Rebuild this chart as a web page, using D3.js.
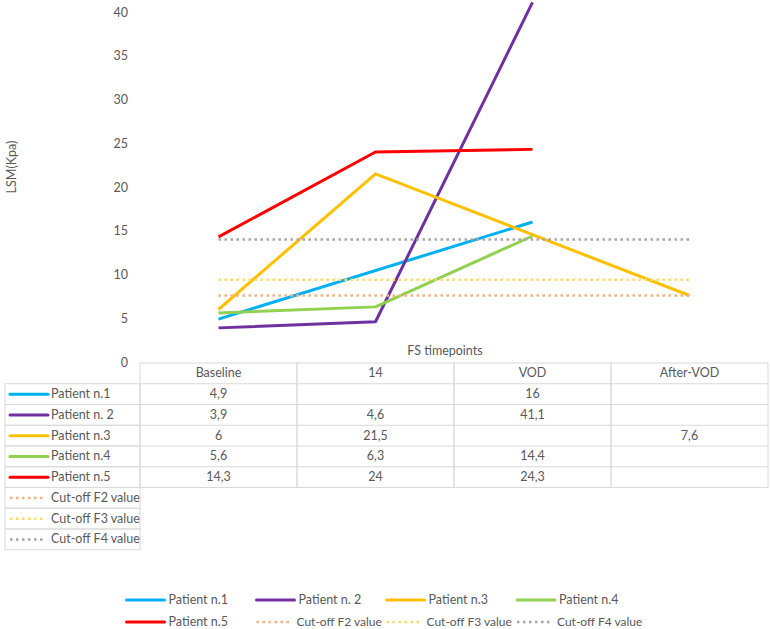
<!DOCTYPE html>
<html lang="en">
<head>
  <meta charset="UTF-8" />
  <title>LSM by FS timepoints</title>
  <script src="https://d3js.org/d3.v7.min.js"></script>
  <style>
    body {
      margin: 0;
      padding: 0;
      background: #fff;
    }
    svg text {
      font-family: Lato, "Open Sans", sans-serif;
      fill: #595959;
    }
  </style>
</head>
<body>
  <div id="chart"></div>

  <script>
    // categories on x
    const timepoints = ["Baseline", "14", "VOD", "After-VOD"];

    // patient series (null = no measurement)
    const patientNames = ["Patient n.1", "Patient n. 2", "Patient n.3", "Patient n.4", "Patient n.5"];
    const patient1 = [4.9, null, 16, null];
    const patient2 = [3.9, 4.6, 41.1, null];
    const patient3 = [6, 21.5, null, 7.6];
    const patient4 = [5.6, 6.3, 14.4, null];
    const patient5 = [14.3, 24, 24.3, null];
    const patientColors = ["#00B0F0", "#7030A0", "#FFC000", "#92D050", "#FF0000"];

    // cut-off reference lines
    const cutoffNames = ["Cut-off F2 value", "Cut-off F3 value", "Cut-off F4 value"];
    const cutoffValues = [7.6, 9.4, 14];
    const cutoffColors = ["#F4B183", "#FFD966", "#A5A5A5"];

    const yTicks = [0, 5, 10, 15, 20, 25, 30, 35, 40];

    const patients = [patient1, patient2, patient3, patient4, patient5].map((vals, i) => ({
      name: patientNames[i],
      color: patientColors[i],
      values: vals,
    }));
    const cutoffs = cutoffValues.map((v, i) => ({
      name: cutoffNames[i],
      color: cutoffColors[i],
      value: v,
    }));

    const width = 770;
    const height = 629;

    const svg = d3
      .select("#chart")
      .append("svg")
      .attr("width", width)
      .attr("height", height);

    const x = d3.scaleBand().domain(timepoints).range([140, 768]).padding(0);
    const xc = (d) => x(d) + x.bandwidth() / 2;
    const y = d3.scaleLinear().domain([0, 40]).range([362, 12]);

    // y axis, labels only
    const yAxis = svg
      .append("g")
      .attr("transform", "translate(128,0)")
      .call(d3.axisLeft(y).tickValues(yTicks).tickSize(0).tickPadding(0));
    yAxis.select(".domain").remove();
    yAxis.selectAll("text").style("font-size", "12.5px").attr("fill", "#595959");

    svg
      .append("text")
      .attr("transform", "translate(16,167) rotate(-90)")
      .attr("text-anchor", "middle")
      .style("font-size", "12.5px")
      .text("LSM(Kpa)");

    svg
      .append("text")
      .attr("x", 445)
      .attr("y", 355)
      .attr("text-anchor", "middle")
      .style("font-size", "12.5px")
      .text("FS timepoints");

    const line = d3
      .line()
      .x((d) => xc(d.t))
      .y((d) => y(d.v));

    // patient lines (gaps are bridged, as in the original)
    svg
      .selectAll(".patient")
      .data(patients)
      .enter()
      .append("path")
      .attr("class", "patient")
      .attr("fill", "none")
      .attr("stroke", (d) => d.color)
      .attr("stroke-width", 3)
      .attr("stroke-linejoin", "round")
      .attr("d", (d) =>
        line(
          d.values
            .map((v, i) => ({ t: timepoints[i], v: v }))
            .filter((p) => p.v !== null)
        )
      );

    // cut-off dotted lines
    svg
      .selectAll(".cutoff")
      .data(cutoffs)
      .enter()
      .append("line")
      .attr("class", "cutoff")
      .attr("x1", xc(timepoints[0]))
      .attr("x2", xc(timepoints[timepoints.length - 1]))
      .attr("y1", (d) => y(d.value))
      .attr("y2", (d) => y(d.value))
      .attr("stroke", (d) => d.color)
      .attr("stroke-width", 2.5)
      .attr("stroke-dasharray", "2.5 3.5");

    // data table
    const rowH = 20.75;
    const tableTop = 363;
    const borderColor = "#D9D9D9";
    const table = svg.append("g");
    const nRows = patients.length + cutoffs.length;

    // header row cells
    timepoints.forEach((t) => {
      table
        .append("rect")
        .attr("x", x(t))
        .attr("y", tableTop)
        .attr("width", x.bandwidth())
        .attr("height", rowH * (patients.length + 1))
        .attr("fill", "none")
        .attr("stroke", borderColor);
      table
        .append("text")
        .attr("x", xc(t))
        .attr("y", tableTop + rowH / 2 + 4)
        .attr("text-anchor", "middle")
        .style("font-size", "12.5px")
        .text(t);
    });

    // horizontal rules across the data columns
    for (let r = 1; r <= patients.length; r++) {
      table
        .append("line")
        .attr("x1", 140)
        .attr("x2", 768)
        .attr("y1", tableTop + rowH * r)
        .attr("y2", tableTop + rowH * r)
        .attr("stroke", borderColor);
    }

    // legend column rows
    for (let r = 0; r < nRows; r++) {
      table
        .append("rect")
        .attr("x", 5)
        .attr("y", tableTop + rowH * (r + 1))
        .attr("width", 135)
        .attr("height", rowH)
        .attr("fill", "none")
        .attr("stroke", borderColor);
    }

    const fmt = (v) => String(v).replace(".", ",");

    patients.forEach((p, r) => {
      const cy = tableTop + rowH * (r + 1) + rowH / 2;
      table
        .append("line")
        .attr("x1", 10)
        .attr("x2", 48)
        .attr("y1", cy)
        .attr("y2", cy)
        .attr("stroke", p.color)
        .attr("stroke-width", 3)
        .attr("stroke-linecap", "round");
      table
        .append("text")
        .attr("x", 51)
        .attr("y", cy + 4)
        .style("font-size", "12.5px")
        .text(p.name);
      p.values.forEach((v, i) => {
        if (v === null) return;
        table
          .append("text")
          .attr("x", xc(timepoints[i]))
          .attr("y", cy + 4)
          .attr("text-anchor", "middle")
          .style("font-size", "12.5px")
          .text(fmt(v));
      });
    });

    cutoffs.forEach((c, k) => {
      const cy = tableTop + rowH * (patients.length + k + 1) + rowH / 2;
      table
        .append("line")
        .attr("x1", 10)
        .attr("x2", 45)
        .attr("y1", cy)
        .attr("y2", cy)
        .attr("stroke", c.color)
        .attr("stroke-width", 2.5)
        .attr("stroke-dasharray", "2.5 3.5");
      table
        .append("text")
        .attr("x", 51)
        .attr("y", cy + 4)
        .style("font-size", "12.5px")
        .text(c.name);
    });

    // bottom legend
    const legendItems = patients
      .map((p) => ({ name: p.name, color: p.color, dotted: false }))
      .concat(cutoffs.map((c) => ({ name: c.name, color: c.color, dotted: true })));
    const legendX = [126.5, 256.5, 386.5, 517];
    const legendY = [600, 622];

    const legend = svg
      .append("g")
      .selectAll("g")
      .data(legendItems)
      .enter()
      .append("g")
      .attr("transform", (d, i) => `translate(${legendX[i % 4]},${legendY[Math.floor(i / 4)]})`);

    legend
      .append("line")
      .attr("x1", 0)
      .attr("x2", (d) => (d.dotted ? 33 : 38))
      .attr("stroke", (d) => d.color)
      .attr("stroke-width", (d) => (d.dotted ? 2.5 : 3))
      .attr("stroke-linecap", (d) => (d.dotted ? "butt" : "round"))
      .attr("stroke-dasharray", (d) => (d.dotted ? "2.5 3.5" : null));

    legend
      .append("text")
      .attr("x", (d) => (d.dotted ? 40 : 42))
      .attr("y", 4)
      .style("font-size", (d) => (d.dotted ? "12px" : "12.5px"))
      .text((d) => d.name);
  </script>
</body>
</html>
